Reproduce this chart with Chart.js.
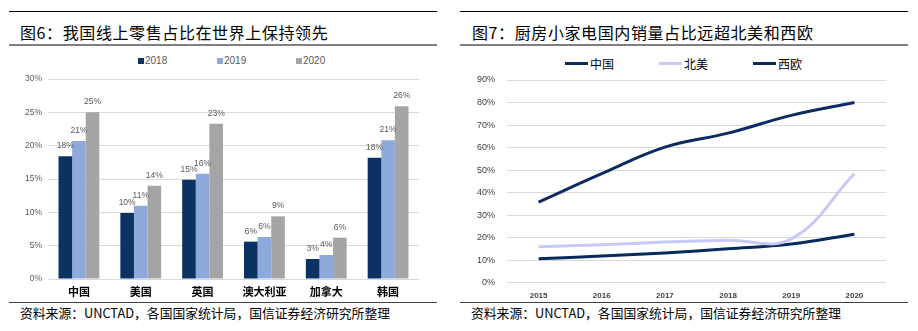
<!DOCTYPE html>
<html>
<head>
<meta charset="utf-8">
<script src="https://cdn.jsdelivr.net/npm/chart.js@4.4.0/dist/chart.umd.min.js"></script>
<style>
  body { margin: 0; background: #fff; font-family: "Noto Sans CJK SC", sans-serif; }
  #page { position: relative; width: 918px; height: 331px; overflow: hidden; background: #fff; }
  .rule { position: absolute; height: 0; }
  .top-rule { top: 11px; border-top: 1px solid #000; }
  .title-rule { top: 44px; border-top: 2px solid #7f7f7f; }
  .foot-rule { top: 302px; border-top: 1.5px solid #404040; }
  .title { position: absolute; top: 21px; font-size: 16px; line-height: 22px; letter-spacing: 0.6px; color: #000; white-space: nowrap; }
  .source { position: absolute; top: 304px; font-size: 12.8px; line-height: 18px; color: #000; white-space: nowrap; }
  .chart-box { position: absolute; top: 48px; height: 252px; }
  .legend { position: absolute; top: 55px; display: flex; white-space: nowrap; }
  .legend .item { display: flex; align-items: center; }
  #barLegend .item { width: 79px; font: 10px "Liberation Sans", sans-serif; color: #595959; }
  #barLegend .swatch { width: 6px; height: 6px; margin-right: 1px; }
  #lineLegend .item { width: 94px; font-size: 12px; color: #000; }
  #lineLegend .swatch { width: 23px; height: 3px; margin-right: 2px; }
</style>
</head>
<body>
<div id="page">
  <!-- left panel -->
  <div class="rule top-rule" style="left:9px;width:428px"></div>
  <div class="title" style="left:20px">图6：我国线上零售占比在世界上保持领先</div>
  <div class="rule title-rule" style="left:9px;width:428px"></div>
  <div class="legend" id="barLegend" style="left:138px"></div>
  <div class="chart-box" style="left:0;width:437px"><canvas id="barChart"></canvas></div>
  <div class="rule foot-rule" style="left:9px;width:428px"></div>
  <div class="source" style="left:20px">资料来源：UNCTAD，各国国家统计局，国信证券经济研究所整理</div>

  <!-- right panel -->
  <div class="rule top-rule" style="left:460px;width:448px"></div>
  <div class="title" style="left:472px">图7：厨房小家电国内销量占比远超北美和西欧</div>
  <div class="rule title-rule" style="left:460px;width:448px"></div>
  <div class="legend" id="lineLegend" style="left:565px"></div>
  <div class="chart-box" style="left:460px;width:458px"><canvas id="lineChart"></canvas></div>
  <div class="rule foot-rule" style="left:460px;width:448px"></div>
  <div class="source" style="left:471px">资料来源：UNCTAD，各国国家统计局，国信证券经济研究所整理</div>
</div>

<script>
// online retail share by country (%)
const countries = ['中国', '美国', '英国', '澳大利亚', '加拿大', '韩国'];
const share2018 = [18.4, 9.9, 14.9, 5.6, 3.0, 18.2];
const share2019 = [20.7, 11.0, 15.8, 6.3, 3.6, 20.8];
const share2020 = [25.0, 14.0, 23.3, 9.4, 6.2, 25.9];
const barTicks = [0, 5, 10, 15, 20, 25, 30];

// small kitchen appliance domestic sales share (%)
const years = ['2015', '2016', '2017', '2018', '2019', '2020'];
const chinaShare = [35.8, 48.4, 60.2, 66.4, 74.3, 80.0];
const northAmericaShare = [15.9, 16.8, 18.0, 18.8, 19.4, 48.5];
const westEuropeShare = [10.6, 11.8, 13.2, 15.0, 17.1, 21.5];
const lineTicks = [0, 10, 20, 30, 40, 50, 60, 70, 80, 90];

const gridColor = '#d9d9d9';

// value labels above each bar
const barValueLabels = {
  id: 'barValueLabels',
  afterDatasetsDraw(chart) {
    const ctx = chart.ctx;
    ctx.save();
    ctx.font = '8.5px "Liberation Sans", sans-serif';
    ctx.fillStyle = '#595959';
    ctx.textAlign = 'center';
    ctx.textBaseline = 'bottom';
    chart.data.datasets.forEach((ds, i) => {
      chart.getDatasetMeta(i).data.forEach((bar, j) => {
        ctx.fillText(Math.round(ds.data[j]) + '%', bar.x, bar.y - 6);
      });
    });
    ctx.restore();
  }
};

function buildLegend(chart, el) {
  const items = chart.options.plugins.legend.labels.generateLabels(chart);
  items.forEach(item => {
    const div = document.createElement('div');
    div.className = 'item';
    const sw = document.createElement('span');
    sw.className = 'swatch';
    sw.style.background = chart.config.type === 'line' ? item.strokeStyle : item.fillStyle;
    div.appendChild(sw);
    div.appendChild(document.createTextNode(item.text));
    el.appendChild(div);
  });
}

const barChart = new Chart(document.getElementById('barChart'), {
  type: 'bar',
  data: {
    labels: countries,
    datasets: [
      { label: '2018', data: share2018, backgroundColor: '#0a3263' },
      { label: '2019', data: share2019, backgroundColor: '#8eaadb' },
      { label: '2020', data: share2020, backgroundColor: '#a5a5a5' }
    ]
  },
  options: {
    responsive: true,
    maintainAspectRatio: false,
    animation: false,
    layout: { padding: { top: 31, right: 18, left: 0, bottom: 0 } },
    datasets: { bar: { categoryPercentage: 0.66, barPercentage: 1.0 } },
    plugins: { legend: { display: false }, tooltip: { enabled: false } },
    scales: {
      x: {
        grid: { display: false, drawTicks: false },
        border: { display: false },
        ticks: { color: '#000', padding: 6, font: { family: '"Noto Sans CJK SC"', size: 11, weight: 'bold' } },
        afterFit(scale) { scale.height = 21; }
      },
      y: {
        min: 0, max: 30,
        afterBuildTicks(scale) { scale.ticks = barTicks.map(v => ({ value: v })); },
        grid: { color: gridColor, drawTicks: false },
        border: { display: false },
        ticks: { color: '#595959', padding: 6, font: { family: '"Liberation Sans"', size: 8.5 }, callback: v => v + '%' },
        afterFit(scale) { scale.width = 48; }
      }
    }
  },
  plugins: [barValueLabels]
});
buildLegend(barChart, document.getElementById('barLegend'));

const lineChart = new Chart(document.getElementById('lineChart'), {
  type: 'line',
  data: {
    labels: years,
    datasets: [
      { label: '中国', data: chinaShare, borderColor: '#0c2b5f', backgroundColor: '#0c2b5f' },
      { label: '北美', data: northAmericaShare, borderColor: '#c9c9f7', backgroundColor: '#c9c9f7' },
      { label: '西欧', data: westEuropeShare, borderColor: '#082a5c', backgroundColor: '#082a5c' }
    ]
  },
  options: {
    responsive: true,
    maintainAspectRatio: false,
    animation: false,
    layout: { padding: { top: 32, right: 32, left: 0, bottom: 0 } },
    elements: {
      line: { borderWidth: 3, tension: 0.4 },
      point: { radius: 0 }
    },
    plugins: { legend: { display: false }, tooltip: { enabled: false } },
    scales: {
      x: {
        offset: true,
        grid: { display: false, drawTicks: false },
        border: { display: false },
        ticks: { color: '#404040', padding: 8, font: { family: '"Liberation Sans"', size: 8, weight: 'bold' } },
        afterFit(scale) { scale.height = 16; }
      },
      y: {
        min: 0, max: 90,
        afterBuildTicks(scale) { scale.ticks = lineTicks.map(v => ({ value: v })); },
        grid: { color: gridColor, drawTicks: false },
        border: { display: false },
        ticks: { color: '#404040', padding: 12, font: { family: '"Liberation Sans"', size: 9 }, callback: v => v + '%' },
        afterFit(scale) { scale.width = 47; }
      }
    }
  }
});
buildLegend(lineChart, document.getElementById('lineLegend'));
</script>
</body>
</html>
